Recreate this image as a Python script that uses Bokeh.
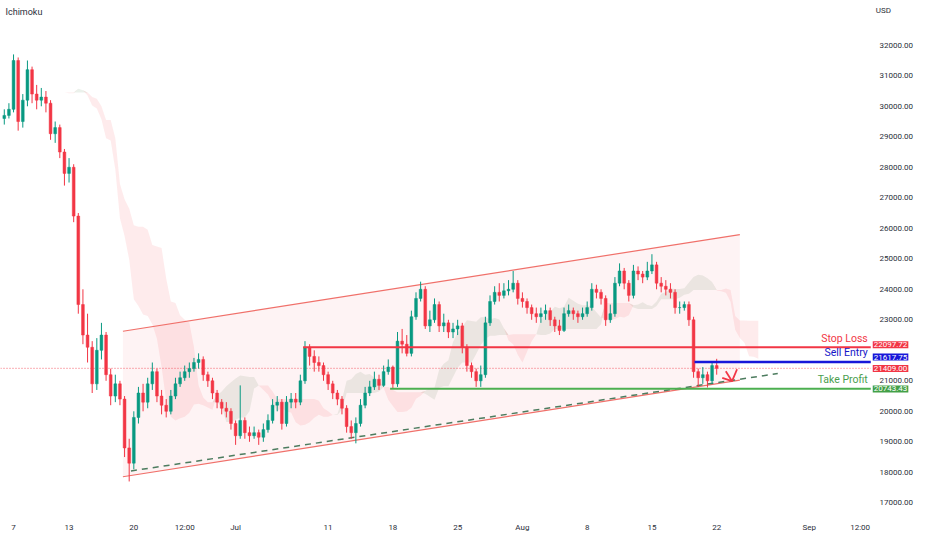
import numpy as np
from bokeh.plotting import figure
from bokeh.models import Range1d, FixedTicker, Label, ColumnDataSource, NumeralTickFormatter
from bokeh.embed import file_html
from bokeh.resources import INLINE

# ---------------- data (x in days since 7 Jun 2022, 12h candles) ----------------
first_day = -1.0
candle_step = 0.5
first_open = 29600

close = [29700, 29900, 31500, 29500, 30200, 31200, 30400, 30200, 30300, 30100,
         29100, 29300, 28500, 27800, 28000, 26400, 23500, 22500, 22100, 20900,
         22000, 22500, 21200, 20500, 20900, 20400, 18800, 18300, 19800, 20600,
         20300, 20900, 21300, 20500, 20200, 20000, 20500, 20900, 21100, 21300,
         21400, 21600, 21700, 21200, 21000, 20600, 20300, 20100, 20000, 19600,
         19200, 19700, 19300, 19200, 19300, 19150, 19400, 19700, 20200, 20300,
         19600, 20300, 20400, 20300, 21000, 22100, 21800, 21600, 21500, 21200,
         20900, 20600, 20400, 20100, 19500, 19300, 19600, 20200, 20600, 20800,
         21050, 20850, 21300, 21450, 20900, 22300, 22200, 21900, 23100, 23700,
         24000, 22800, 23000, 23500, 22800, 22900, 22600, 22700, 22800, 22100,
         21500, 21300, 21000, 21200, 22900, 23600, 23900, 23800, 23950, 24000,
         24200, 23700, 23600, 23400, 23200, 23100, 23200, 23300, 23000, 22800,
         22650, 23200, 23300, 23200, 23100, 23200, 23400, 24000, 23900, 23700,
         23000, 23200, 24200, 24600, 24200, 23800, 24600, 24500, 24400, 24600,
         24800, 24200, 24100, 24000, 23900, 23400, 23400, 23500, 23000, 21300,
         21100, 21200, 21000, 21500, 21409]
high = [29900, 30100, 31700, 31600, 30400, 31500, 31300, 30700, 30600, 30500,
        30200, 29500, 29400, 28600, 28300, 28100, 26500, 24000, 23200, 22300,
        22400, 22900, 22600, 21400, 21200, 21000, 20500, 19100, 20000, 20800,
        20900, 21100, 21600, 21400, 20700, 20400, 20700, 21100, 21300, 21500,
        21600, 21750, 21900, 21800, 21300, 21100, 20700, 20400, 20300, 20100,
        19700, 20850, 19800, 19500, 19500, 19400, 19600, 19900, 20400, 20500,
        20400, 20500, 20600, 20600, 21200, 22300, 22200, 22000, 21800, 21600,
        21300, 21000, 20700, 20500, 20200, 19700, 19800, 20400, 20800, 21000,
        21300, 21200, 21500, 21700, 21500, 22600, 22700, 22500, 23300, 23900,
        24250, 24100, 23300, 23700, 23600, 23200, 23000, 22900, 23000, 22900,
        22200, 21600, 21400, 21500, 23100, 23800, 24100, 24200, 24200, 24300,
        24600, 24300, 23900, 23700, 23500, 23400, 23400, 23500, 23400, 23100,
        23000, 23400, 23500, 23400, 23300, 23400, 23600, 24200, 24150, 24000,
        23800, 23500, 24400, 24850, 24700, 24300, 24800, 24750, 24600, 24900,
        25150, 24900, 24400, 24300, 24200, 24000, 23600, 23600, 23600, 23100,
        21400, 21450, 21300, 21600, 21720]
low = [29400, 29600, 29800, 29200, 29300, 30000, 30100, 29900, 30000, 29800,
       28900, 28800, 28300, 27400, 27500, 26200, 23200, 22200, 21600, 20600,
       20700, 21700, 21000, 20200, 20300, 20200, 18500, 17700, 18100, 19600,
       20000, 20100, 20700, 20300, 19900, 19800, 19900, 20400, 20800, 21000,
       21100, 21300, 21400, 21000, 20800, 20400, 20100, 19900, 19800, 19400,
       18900, 19100, 19100, 19000, 19100, 18900, 19000, 19300, 19600, 20000,
       19400, 19500, 20100, 20100, 20200, 20900, 21500, 21300, 21300, 21000,
       20700, 20400, 20200, 19900, 19300, 19100, 18950, 19500, 20100, 20500,
       20700, 20700, 20800, 21200, 20750, 20800, 21900, 21800, 21800, 23000,
       23600, 22700, 22600, 22900, 22600, 22600, 22400, 22400, 22500, 21900,
       21300, 21100, 20800, 20800, 21100, 22800, 23500, 23600, 23700, 23800,
       23900, 23500, 23400, 23200, 23000, 22900, 22900, 23000, 22800, 22600,
       22500, 22600, 23100, 23000, 22900, 23000, 23100, 23300, 23700, 23500,
       22800, 22900, 23100, 24100, 24000, 23600, 23700, 24300, 24200, 24300,
       24500, 24000, 23900, 23800, 23700, 23200, 23200, 23300, 22800, 21100,
       20800, 20900, 20780, 20900, 21200]

# drawings (day, price)
channel_x = [11.82, 78.5]
channel_top = [22625, 25794]
channel_bottom = [17854, 21023]
trend_x = [12.69, 82.6]
trend_y = [18043, 21239]
stop_loss = 22097.72
sell_entry = 21617.75
take_profit = 20743.43
last_price = 21409.00
stop_start, sell_start, tp_start = 31.3, 73.6, 40.7
arrow_shaft_x = [76.98, 77.66]
arrow_shaft_y = [21314, 20988]
arrow_head_x = [76.6, 77.66, 78.2]
arrow_head_y = [21099, 20988, 21379]

tick_days = [0, 6, 13, 18.5, 24, 34, 41, 48, 55, 62, 69, 76, 86, 91.5]
tick_text = ["7", "13", "20", "12:00", "Jul", "11", "18", "25", "Aug", "8", "15", "22", "Sep", "12:00"]
price_ticks = list(range(17000, 32001, 1000))
hidden_price_ticks = [22000]   # covered by the level boxes on the price scale

# ---------------- pixel mapping of reference ----------------
PX_PER_DAY = 9.22
PX_DAY0 = 13.0
PX_PER_USD = 0.030667
PY_32000 = 45.0
S = 0.99   # reference px per canvas px

def d_at(px):            # reference x pixel -> day
    return (px - PX_DAY0) / PX_PER_DAY

def v_at(py):            # reference y pixel -> price
    return 32000 - (py - PY_32000) / PX_PER_USD

def cd(px):              # canvas x pixel -> day
    return d_at(px * S)

def cv(py):              # canvas y pixel -> price
    return v_at(py * S)

W, H = 916, 534
FRAME_R, FRAME_B = 915, 524
PLOT_R = 876          # canvas x where the drawing area ends (price scale begins)
LABEL_X = 879         # canvas x of price label left edge

p = figure(width=W, height=H,
           x_range=Range1d(cd(0), cd(FRAME_R)),
           y_range=Range1d(cv(FRAME_B), cv(0)),
           output_backend="svg", toolbar_location=None,
           y_axis_location="right",
           min_border_left=0, min_border_top=0,
           min_border_right=W - FRAME_R, min_border_bottom=H - FRAME_B,
           background_fill_color="white", border_fill_color="white",
           outline_line_color=None)
p.grid.visible = False

# ---------------- candles ----------------
n = len(close)
x = np.array([first_day + i * candle_step for i in range(n)])
c = np.array(close, dtype=float)
o = np.concatenate([[first_open], c[:-1]])
h = np.array(high, dtype=float)
l = np.array(low, dtype=float)
up = c >= o
UP, DN = "#089981", "#f23645"
colors = [UP if u else DN for u in up]

# ---------------- Ichimoku cloud (periods scaled to 12h candles) ----------------
def midline(hh, ll, period):
    out = []
    for i in range(len(hh)):
        s = max(0, i - period + 1)
        out.append((hh[s:i + 1].max() + ll[s:i + 1].min()) / 2)
    return np.array(out)

tenkan = midline(h, l, 3)
kijun = midline(h, l, 9)
span_a = (tenkan + kijun) / 2
span_b = midline(h, l, 17)
shift = 9
cx = x + shift * candle_step
green_top = np.where(span_a >= span_b, span_a, span_b)
red_top = np.where(span_a < span_b, span_b, span_a)
p.varea(x=cx, y1=span_b, y2=green_top, fill_color="#5b8c5a", fill_alpha=0.12)
p.varea(x=cx, y1=span_a, y2=red_top, fill_color="#f23645", fill_alpha=0.10)

# ---------------- channel ----------------
p.patch(x=[channel_x[0], channel_x[1], channel_x[1], channel_x[0]],
        y=[channel_top[0], channel_top[1], channel_bottom[1], channel_bottom[0]],
        fill_color="#f23645", fill_alpha=0.06, line_color=None)
p.line(channel_x, channel_top, line_color="#f0706a", line_width=1.2)
p.line(channel_x, channel_bottom, line_color="#f0706a", line_width=1.2)
p.line(trend_x, trend_y, line_color="#4d7c5f", line_width=1.5, line_dash="6 5")

x_end = cd(PLOT_R)
x_start = cd(0)
# last price dotted line
p.line([x_start, x_end], [last_price, last_price], line_color="#f23645",
       line_dash="1 2", line_width=1, line_alpha=0.8)

src = ColumnDataSource(dict(x=x, o=o, c=c, h=h, l=l, top=np.maximum(o, c),
                            bot=np.minimum(o, c), color=colors))
p.segment(x0="x", y0="h", x1="x", y1="l", line_color="color", line_width=1, source=src)
p.vbar(x="x", width=0.3, top="top", bottom="bot", fill_color="color",
       line_color="color", line_width=0.5, source=src)

# ---------------- trade levels ----------------
p.line([stop_start, x_end], [stop_loss, stop_loss], line_color="#f23645", line_width=2)
p.line([sell_start, x_end], [sell_entry, sell_entry], line_color="#1717d9", line_width=2.5)
p.line([tp_start, x_end], [take_profit, take_profit], line_color="#4caf50", line_width=2)

p.line(arrow_shaft_x, arrow_shaft_y, line_color="#f23645", line_width=1.8)
p.line(arrow_head_x, arrow_head_y, line_color="#f23645", line_width=1.8)

def txt(xv, yv, s, color, size, align="left", bg=None):
    lab = Label(x=xv, y=yv, text=s, text_color=color, text_font_size=size,
                text_font="Roboto", text_align=align, text_baseline="middle")
    if bg is not None:
        lab.background_fill_color = bg
        lab.padding = 1
    p.add_layout(lab)

txt(cd(PLOT_R - 3), v_at(340), "Stop Loss", "#f23645", "10.5px", "right")
txt(cd(PLOT_R - 3), v_at(354), "Sell Entry", "#1717c8", "10.5px", "right")
txt(cd(PLOT_R - 3), v_at(381), "Take Profit", "#4a9e4e", "10.5px", "right")

# price boxes on the price scale (stacked as TradingView does)
box_rows = [(stop_loss, 346, "#f23645"), (sell_entry, 358.5, "#1717d9"),
            (last_price, 370, "#f23645"), (take_profit, 390.5, "#43a047")]
for val, py, col in box_rows:
    txt(cd(LABEL_X - 1), v_at(py), f"{val:.2f}", "white", "8px", "left", bg=col)

txt(d_at(5), v_at(12), "Ichimoku", "#2a2e39", "9px")
txt(cd(LABEL_X + 2), v_at(10), "USD", "#2a2e39", "8px")

# ---------------- axes ----------------
p.yaxis.ticker = FixedTicker(ticks=price_ticks)
p.yaxis.formatter = NumeralTickFormatter(format="0.00")
p.yaxis.major_label_overrides = {t: "" for t in hidden_price_ticks}
p.xaxis.ticker = FixedTicker(ticks=tick_days)
p.xaxis.major_label_overrides = {k: v for k, v in zip(tick_days, tick_text)}
for ax in (p.xaxis, p.yaxis):
    ax.axis_line_color = None
    ax.major_tick_line_color = None
    ax.minor_tick_line_color = None
    ax.major_label_text_font = "Roboto"
    ax.major_label_text_font_size = "8px"
    ax.major_label_text_color = "#2a2e39"
p.xaxis.major_label_standoff = 0
p.yaxis.major_label_standoff = LABEL_X - FRAME_R   # labels drawn over the price-scale strip

open("out.html", "w").write(file_html(p, INLINE))
